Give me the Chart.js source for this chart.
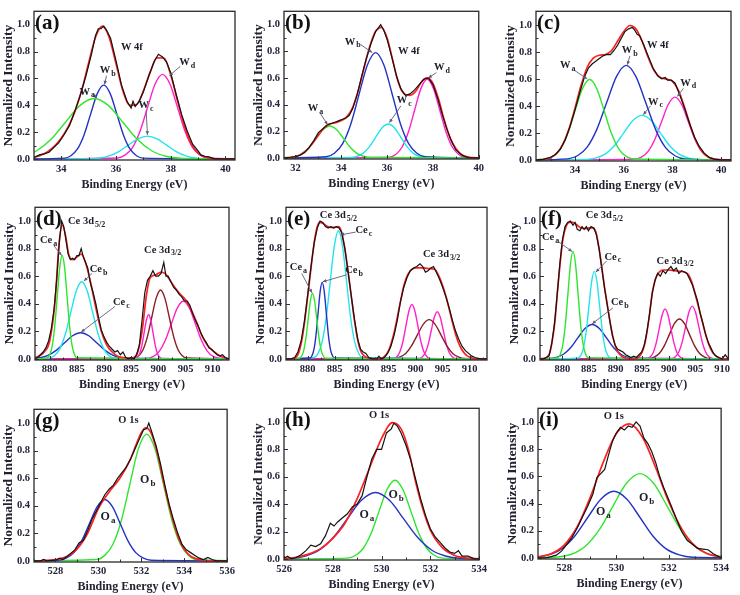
<!DOCTYPE html>
<html>
<head>
<meta charset="utf-8">
<script src="https://cdn.jsdelivr.net/npm/chart.js@4.4.1/dist/chart.umd.min.js"></script>
<style>
html,body{margin:0;padding:0;background:#fff;}
body{width:740px;height:595px;position:relative;overflow:hidden;}
</style>
</head>
<body>
<script>
// ---------------- shared tick labels ----------------
const yTicks = [0, 0.2, 0.4, 0.6, 0.8, 1.0];
const aTicks = [34, 36, 38, 40];
const bTicks = [32, 34, 36, 38, 40];
const cTicks = [34, 36, 38, 40];
const ceTicks = [880, 885, 890, 895, 900, 905, 910];
const gTicks = [528, 530, 532, 534, 536];
const hTicks = [526, 528, 530, 532, 534];
const iTicks = [528, 530, 532, 534];

// ---------------- (a) W 4f ----------------
const aFit = [[33,.013],[33.25,.028],[33.5,.054],[33.75,.095],[34,.156],[34.25,.238],[34.5,.356],[34.75,.515],[35,.717],[35.25,.907],[35.5,.989],[35.75,.906],[36,.709],[36.25,.508],[36.5,.399],[36.75,.405],[37,.507],[37.25,.647],[37.5,.753],[37.75,.752],[38,.626],[38.25,.431],[38.5,.246],[38.75,.113],[39,.044],[39.25,.014],[39.5,.003],[39.75,0],[40,0],[40.35,0]];
const aExp = [[33,.01],[33.2,.03],[33.4,.04],[33.55,.05],[33.7,.08],[33.9,.12],[34.1,.18],[34.3,.25],[34.5,.36],[34.7,.48],[34.9,.62],[35.1,.78],[35.25,.92],[35.35,.97],[35.45,.97],[35.55,.99],[35.65,.96],[35.8,.9],[36,.73],[36.2,.55],[36.4,.43],[36.55,.38],[36.62,.43],[36.7,.39],[36.85,.43],[37,.5],[37.2,.62],[37.4,.73],[37.55,.78],[37.7,.76],[37.85,.72],[38,.64],[38.2,.48],[38.4,.33],[38.6,.21],[38.8,.11],[39,.06],[39.1,.03],[39.25,.02],[39.4,.015],[39.6,0],[40,0],[40.35,0]];
const aWa = [[32.05,.005],[32.575,.02],[33.1,.061],[33.625,.146],[34.15,.273],[34.675,.397],[35.2,.45],[35.725,.397],[36.25,.273],[36.775,.146],[37.3,.061],[37.825,.02],[38.35,.005],[40.5,0]];
const aWb = [[32.5,0],[34.11,.006],[34.35,.024],[34.59,.074],[34.83,.179],[35.07,.334],[35.31,.485],[35.55,.55],[35.79,.485],[36.03,.334],[36.27,.179],[36.51,.074],[36.75,.024],[36.99,.006],[40.5,0]];
const aWc = [[32.5,0],[35.05,.002],[35.4,.007],[35.75,.023],[36.1,.055],[36.45,.103],[36.8,.15],[37.15,.17],[37.5,.15],[37.85,.103],[38.2,.055],[38.55,.023],[38.9,.007],[39.25,.002],[40.5,0]];
const aWd = [[32.5,0],[36.05,.007],[36.325,.028],[36.6,.085],[36.875,.205],[37.15,.382],[37.425,.556],[37.7,.63],[37.975,.556],[38.25,.382],[38.525,.205],[38.8,.085],[39.075,.028],[39.35,.007],[40.5,0]];

// ---------------- (b) W 4f ----------------
const bFit = [[31.5,.001],[31.75,.003],[32,.011],[32.25,.028],[32.5,.06],[32.75,.11],[33,.17],[33.25,.225],[33.5,.255],[33.75,.265],[34,.28],[34.25,.31],[34.5,.38],[34.75,.51],[35,.68],[35.25,.84],[35.5,.95],[35.75,.98],[36,.9],[36.25,.73],[36.5,.56],[36.75,.48],[37,.47],[37.25,.5],[37.5,.57],[37.75,.6],[38,.56],[38.25,.44],[38.5,.28],[38.75,.15],[39,.07],[39.25,.025],[39.5,.008],[39.75,.002],[40,0]];
const bExp = [[31.5,0],[31.8,.005],[32,.01],[32.2,.02],[32.4,.04],[32.6,.08],[32.8,.13],[33,.19],[33.2,.22],[33.4,.25],[33.6,.26],[33.75,.27],[33.9,.28],[34.05,.29],[34.2,.3],[34.35,.32],[34.5,.37],[34.7,.48],[34.9,.62],[35.1,.75],[35.3,.86],[35.5,.95],[35.6,.97],[35.72,1.0],[35.85,.96],[36,.89],[36.2,.76],[36.4,.62],[36.6,.52],[36.8,.47],[37,.48],[37.2,.51],[37.4,.55],[37.6,.59],[37.8,.6],[38,.55],[38.2,.45],[38.4,.33],[38.6,.22],[38.8,.13],[39,.06],[39.2,.03],[39.4,.01],[39.6,0],[40,0]];
const bWa = [[31,0],[31.7,.003],[32,.011],[32.3,.032],[32.6,.078],[32.9,.146],[33.2,.212],[33.5,.24],[33.8,.212],[34.1,.146],[34.4,.078],[34.7,.032],[35,.011],[35.3,.003],[40.5,0]];
const bWb = [[31,0],[33.34,.009],[33.7,.035],[34.06,.107],[34.42,.257],[34.78,.48],[35.14,.697],[35.5,.79],[35.86,.697],[36.22,.48],[36.58,.257],[36.94,.107],[37.3,.035],[37.66,.009],[40.5,0]];
const bWc = [[31,0],[34.4,.003],[34.675,.011],[34.95,.034],[35.225,.083],[35.5,.155],[35.775,.225],[36.05,.255],[36.325,.225],[36.6,.155],[36.875,.083],[37.15,.034],[37.425,.011],[37.7,.003],[40.5,0]];
const bWd = [[31,0],[36.1,.006],[36.375,.026],[36.65,.08],[36.925,.192],[37.2,.358],[37.475,.52],[37.75,.59],[38.025,.52],[38.3,.358],[38.575,.192],[38.85,.08],[39.125,.026],[39.4,.006],[40.5,0]];

// ---------------- (c) W 4f ----------------
const cFit = [[32.4,0],[32.5,.001],[32.75,.005],[33,.017],[33.25,.049],[33.5,.115],[33.75,.226],[34,.383],[34.25,.552],[34.5,.686],[34.75,.754],[35,.775],[35.25,.78],[35.5,.81],[35.75,.88],[36,.95],[36.25,.995],[36.5,.97],[36.75,.88],[37,.76],[37.25,.66],[37.5,.61],[37.75,.598],[38,.582],[38.25,.512],[38.5,.386],[38.75,.244],[39,.126],[39.25,.053],[39.5,.018],[39.75,.005],[40,.001],[40.4,0]];
const cExp = [[32.4,0],[32.7,.004],[33,.02],[33.2,.04],[33.4,.08],[33.6,.15],[33.8,.25],[34,.37],[34.2,.5],[34.4,.62],[34.55,.68],[34.7,.71],[34.85,.73],[35,.75],[35.15,.77],[35.3,.78],[35.45,.78],[35.6,.81],[35.75,.85],[35.9,.9],[36.05,.95],[36.2,.97],[36.35,.98],[36.45,.96],[36.55,.93],[36.65,.92],[36.8,.86],[37,.77],[37.2,.68],[37.4,.62],[37.55,.6],[37.7,.61],[37.8,.59],[37.95,.59],[38.1,.57],[38.3,.48],[38.5,.38],[38.7,.27],[38.9,.17],[39.1,.1],[39.3,.05],[39.5,.02],[39.7,.006],[40,0],[40.4,0]];
const cWa = [[32,0],[32.8,.007],[33.1,.026],[33.4,.08],[33.7,.193],[34,.361],[34.3,.525],[34.6,.595],[34.9,.525],[35.2,.361],[35.5,.193],[35.8,.08],[36.1,.026],[36.4,.007],[41,0]];
const cWb = [[32,0],[33.7,.008],[34.1,.031],[34.5,.095],[34.9,.228],[35.3,.425],[35.7,.617],[36.1,.7],[36.5,.617],[36.9,.425],[37.3,.228],[37.7,.095],[38.1,.031],[38.5,.008],[41,0]];
const cWc = [[32,0],[34.5,.004],[34.875,.015],[35.25,.045],[35.625,.107],[36,.2],[36.375,.291],[36.75,.33],[37.125,.291],[37.5,.2],[37.875,.107],[38.25,.045],[38.625,.015],[39,.004],[41,0]];
const cWd = [[32,0],[36.45,.005],[36.725,.02],[37,.063],[37.275,.151],[37.55,.282],[37.825,.41],[38.1,.465],[38.375,.41],[38.65,.282],[38.925,.151],[39.2,.063],[39.475,.02],[39.75,.005],[41,0]];

// ---------------- (d) Ce 3d ----------------
const dFit = [[877.3,.01],[878,.02],[879,.05],[880,.13],[881,.42],[881.7,.82],[882.3,.97],[882.9,.9],[883.5,.76],[884.2,.72],[885,.74],[885.8,.76],[886.6,.7],[887.5,.56],[888.5,.37],[889.5,.2],[890.5,.1],[891.5,.05],[892.5,.02],[893.5,.01],[895,.005],[896,.03],[897,.2],[897.8,.46],[898.5,.59],[899.5,.61],[900.5,.63],[901.2,.62],[902,.58],[903,.52],[904,.47],[905,.43],[906,.36],[907,.27],[908,.17],[909,.1],[910,.06],[911,.03],[912,.01],[913,0]];
const dExp = [[877.3,0],[877.8,.01],[878.3,.03],[878.8,.05],[879.3,.08],[879.8,.13],[880.3,.22],[880.8,.36],[881.3,.58],[881.8,.86],[882.2,1.0],[882.6,.96],[883,.86],[883.4,.76],[883.8,.72],[884.2,.73],[884.6,.72],[885,.75],[885.4,.75],[885.8,.8],[886.2,.74],[886.6,.7],[887,.66],[887.5,.55],[888,.48],[888.5,.4],[889,.3],[889.5,.21],[890,.16],[890.5,.12],[891,.09],[891.5,.07],[892,.05],[892.5,.06],[893,.03],[893.5,.05],[894,.01],[894.5,0],[895,.01],[895.5,0],[896,.03],[896.5,.1],[897,.28],[897.5,.48],[898,.57],[898.5,.6],[899,.64],[899.5,.6],[900,.6],[900.5,.62],[901,.7],[901.4,.6],[901.8,.6],[902.3,.56],[902.8,.52],[903.3,.5],[903.8,.47],[904.3,.45],[904.8,.42],[905.3,.42],[905.8,.39],[906.3,.33],[906.8,.28],[907.3,.24],[907.8,.19],[908.3,.15],[908.8,.12],[909.3,.08],[909.8,.07],[910.3,.05],[910.8,.03],[911.3,.02],[911.8,.03],[912.3,.01],[913,0]];
const dCea = [[877,0],[879.6,.008],[880.05,.033],[880.5,.101],[880.95,.244],[881.4,.455],[881.85,.662],[882.3,.75],[882.75,.662],[883.2,.455],[883.65,.244],[884.1,.101],[884.55,.033],[885,.008],[914,0]];
const dCeb = [[877,0],[879.9,.006],[880.9,.025],[881.9,.076],[882.9,.182],[883.9,.34],[884.9,.494],[885.9,.56],[886.9,.494],[887.9,.34],[888.9,.182],[889.9,.076],[890.9,.025],[891.9,.006],[914,0]];
const dCec = [[876.7,.002],[878.2,.008],[879.7,.026],[881.2,.062],[882.7,.115],[884.2,.168],[885.7,.19],[887.2,.168],[888.7,.115],[890.2,.062],[891.7,.026],[893.2,.008],[894.7,.002],[914,0]];
const dPk1 = [[877,0],[895.8,.004],[896.2,.014],[896.6,.043],[897,.104],[897.4,.194],[897.8,.282],[898.2,.32],[898.6,.282],[899,.194],[899.4,.104],[899.8,.043],[900.2,.014],[900.6,.004],[914,0]];
const dPk2 = [[877,0],[895.6,.006],[896.4,.022],[897.2,.068],[898,.163],[898.8,.304],[899.6,.441],[900.4,.5],[901.2,.441],[902,.304],[902.8,.163],[903.6,.068],[904.4,.022],[905.2,.006],[914,0]];
const dPk3 = [[877,0],[898,.005],[899.1,.018],[900.2,.057],[901.3,.137],[902.4,.255],[903.5,.37],[904.6,.42],[905.7,.37],[906.8,.255],[907.9,.137],[909,.057],[910.1,.018],[911.2,.005],[914,0]];

// ---------------- (e) Ce 3d ----------------
const eFit = [[876,0],[877.5,.005],[878.3,.04],[879,.15],[879.7,.35],[880.3,.55],[881,.78],[881.6,.93],[882.2,.99],[882.8,.985],[883.5,.965],[884.3,.955],[885,.955],[885.7,.96],[886.2,.93],[886.8,.82],[887.4,.66],[888,.48],[888.6,.3],[889.2,.15],[889.8,.06],[890.5,.02],[891.5,.005],[893,0],[894,.01],[895,.06],[896,.19],[897,.38],[897.8,.53],[898.5,.61],[899.3,.65],[900.2,.66],[901.5,.66],[902.5,.655],[903.5,.65],[904.3,.6],[905,.53],[905.7,.44],[906.4,.33],[907.1,.22],[907.8,.13],[908.5,.07],[909.3,.03],[910.2,.01],[911,0],[913.2,0]];
const eExp = [[876,0],[877,0],[877.6,.01],[878.2,.05],[878.8,.13],[879.4,.27],[880,.46],[880.6,.66],[881.2,.84],[881.8,.95],[882.3,1.0],[882.8,.99],[883.3,.96],[883.8,.95],[884.3,.96],[884.8,.95],[885.3,.96],[885.8,.95],[886.3,.92],[886.9,.8],[887.5,.63],[888.1,.45],[888.7,.28],[889.3,.14],[889.8,.07],[890.3,.05],[890.8,.04],[891.3,.01],[892,0],[892.8,0],[893.2,.02],[893.6,0],[894.2,.01],[894.8,.04],[895.4,.09],[896,.17],[896.6,.28],[897.2,.42],[897.8,.52],[898.4,.59],[899,.64],[899.6,.66],[900.2,.67],[900.8,.69],[901.3,.67],[901.8,.63],[902.3,.64],[902.8,.66],[903.3,.67],[903.8,.63],[904.4,.58],[905,.52],[905.6,.45],[906.2,.37],[906.8,.28],[907.4,.2],[908,.14],[908.6,.09],[909.2,.06],[909.8,.04],[910.4,.02],[911,.01],[912,0],[913.2,0]];
const eCea = [[875,0],[878.5,.005],[878.9,.021],[879.3,.064],[879.7,.154],[880.1,.288],[880.5,.419],[880.9,.475],[881.3,.419],[881.7,.288],[882.1,.154],[882.5,.064],[882.9,.021],[883.3,.005],[914,0]];
const eCeb = [[875,0],[880.45,.006],[880.825,.024],[881.2,.075],[881.575,.18],[881.95,.337],[882.325,.49],[882.7,.555],[883.075,.49],[883.45,.337],[883.825,.18],[884.2,.075],[884.575,.024],[884.95,.006],[914,0]];
const eCec = [[875,0],[881.2,.01],[881.95,.041],[882.7,.126],[883.45,.302],[884.2,.565],[884.95,.82],[885.7,.93],[886.45,.82],[887.2,.565],[887.95,.302],[888.7,.126],[889.45,.041],[890.2,.01],[914,0]];
const ePk1 = [[875,0],[896,.004],[896.55,.017],[897.1,.053],[897.65,.128],[898.2,.24],[898.75,.348],[899.3,.395],[899.85,.348],[900.4,.24],[900.95,.128],[901.5,.053],[902.05,.017],[902.6,.004],[914,0]];
const ePk2 = [[875,0],[895.9,.003],[897,.013],[898.1,.038],[899.2,.093],[900.3,.173],[901.4,.251],[902.5,.285],[903.6,.251],[904.7,.173],[905.8,.093],[906.9,.038],[908,.013],[909.1,.003],[914,0]];
const ePk3 = [[875,0],[900.7,.004],[901.25,.015],[901.8,.046],[902.35,.111],[902.9,.208],[903.45,.302],[904,.342],[904.55,.302],[905.1,.208],[905.65,.111],[906.2,.046],[906.75,.015],[907.3,.004],[914,0]];

// ---------------- (f) Ce 3d ----------------
const fFit = [[875.8,0],[877,.01],[877.6,.04],[878.1,.13],[878.6,.27],[879.1,.5],[879.6,.7],[880.1,.87],[880.6,.95],[881.3,.99],[882,.99],[882.8,.97],[883.5,.95],[884.3,.945],[885,.95],[885.7,.95],[886.3,.92],[886.9,.8],[887.5,.64],[888,.5],[888.5,.38],[889,.26],[889.5,.16],[890,.09],[890.6,.04],[891.3,.015],[892,.005],[893,0],[894,.005],[895,.05],[895.7,.15],[896.3,.3],[896.9,.48],[897.5,.58],[898.2,.63],[899,.645],[900,.645],[901,.64],[902,.635],[903,.63],[903.7,.61],[904.3,.56],[904.9,.48],[905.5,.39],[906.1,.3],[906.7,.21],[907.3,.13],[907.9,.07],[908.6,.03],[909.3,.01],[910,0],[911.2,0]];
const fExp = [[875.8,0],[876.5,0],[877,.01],[877.5,.02],[878,.11],[878.5,.25],[879,.45],[879.5,.68],[880,.86],[880.5,.96],[881,.99],[881.5,1.0],[882,.97],[882.4,.99],[882.8,.94],[883.3,.93],[883.7,.96],[884.1,.94],[884.5,.96],[884.9,.93],[885.4,.96],[885.9,.95],[886.4,.9],[886.9,.8],[887.4,.66],[887.9,.52],[888.4,.4],[888.9,.28],[889.4,.17],[889.9,.1],[890.4,.07],[890.9,.06],[891.4,.05],[891.9,.03],[892.4,.02],[892.9,.01],[893.4,.02],[893.9,.01],[894.4,.03],[894.9,.05],[895.4,.1],[895.9,.2],[896.4,.33],[896.9,.48],[897.4,.57],[897.9,.62],[898.4,.6],[898.9,.64],[899.4,.62],[899.9,.65],[900.4,.67],[900.9,.64],[901.4,.66],[901.9,.62],[902.4,.64],[902.9,.63],[903.4,.62],[903.9,.58],[904.4,.54],[904.9,.48],[905.4,.42],[905.9,.33],[906.4,.26],[906.9,.18],[907.4,.12],[907.9,.08],[908.4,.04],[908.9,.02],[909.4,.01],[910,0],[910.6,.03],[911.2,0]];
const fCea = [[875,0],[879.15,.009],[879.625,.034],[880.1,.105],[880.575,.254],[881.05,.473],[881.525,.688],[882,.78],[882.475,.688],[882.95,.473],[883.425,.254],[883.9,.105],[884.375,.034],[884.85,.009],[912,0]];
const fCec = [[875,0],[883,.007],[883.5,.028],[884,.086],[884.5,.206],[885,.385],[885.5,.56],[886,.635],[886.5,.56],[887,.385],[887.5,.206],[888,.086],[888.5,.028],[889,.007],[912,0]];
const fCeb = [[875,.001],[877.5,.003],[878.85,.011],[880.2,.034],[881.55,.081],[882.9,.152],[884.25,.221],[885.6,.25],[886.95,.221],[888.3,.152],[889.65,.081],[891,.034],[892.35,.011],[893.7,.003],[912,0]];
const fPk1 = [[875,0],[896,.004],[896.55,.016],[897.1,.049],[897.65,.118],[898.2,.22],[898.75,.319],[899.3,.362],[899.85,.319],[900.4,.22],[900.95,.118],[901.5,.049],[902.05,.016],[902.6,.004],[912,0]];
const fPk2 = [[875,0],[896.3,.003],[897.25,.013],[898.2,.039],[899.15,.094],[900.1,.176],[901.05,.256],[902,.29],[902.95,.256],[903.9,.176],[904.85,.094],[905.8,.039],[906.75,.013],[907.7,.003],[912,0]];
const fPk3 = [[875,0],[900.65,.004],[901.275,.017],[901.9,.052],[902.525,.124],[903.15,.232],[903.775,.338],[904.4,.383],[905.025,.338],[905.65,.232],[906.275,.124],[906.9,.052],[907.525,.017],[908.15,.004],[912,0]];

// ---------------- (g) O 1s ----------------
const gFit = [[527,0],[527.5,.002],[528,.01],[528.5,.03],[529,.085],[529.5,.2],[530,.38],[530.5,.5],[531,.6],[531.5,.74],[531.75,.84],[532,.93],[532.2,.965],[532.45,.93],[532.75,.78],[533,.6],[533.25,.43],[533.5,.28],[533.75,.16],[534,.085],[534.25,.04],[534.5,.018],[535,.003],[535.5,0],[536,0]];
const gExp = [[527,0],[527.3,0],[527.45,.01],[527.6,0],[528,.005],[528.2,.02],[528.35,.01],[528.6,.04],[528.9,.08],[529.1,.13],[529.3,.15],[529.5,.22],[529.7,.3],[529.9,.36],[530.1,.42],[530.3,.48],[530.5,.52],[530.7,.55],[530.9,.6],[531.1,.64],[531.3,.68],[531.5,.74],[531.7,.81],[531.9,.88],[532.1,.95],[532.25,.96],[532.35,1.0],[532.5,.93],[532.7,.83],[532.9,.7],[533.1,.55],[533.3,.41],[533.5,.3],[533.7,.2],[533.9,.12],[534.1,.08],[534.3,.06],[534.5,.04],[534.7,.02],[534.9,.01],[535.1,.025],[535.3,.01],[535.5,0],[536,0]];
const gOa = [[526,0],[528.14,.005],[528.5,.02],[528.86,.06],[529.22,.145],[529.58,.27],[529.94,.392],[530.3,.445],[530.66,.392],[531.02,.27],[531.38,.145],[531.74,.06],[532.1,.02],[532.46,.005],[537,0]];
const gOb = [[526,0],[529.91,.01],[530.3,.04],[530.69,.124],[531.08,.299],[531.47,.558],[531.86,.811],[532.25,.92],[532.64,.811],[533.03,.558],[533.42,.299],[533.81,.124],[534.2,.04],[534.59,.01],[537,0]];

// ---------------- (h) O 1s ----------------
const hFit = [[526,.003],[526.5,.012],[527,.035],[527.5,.075],[528,.15],[528.5,.26],[529,.44],[529.5,.66],[530,.88],[530.45,.995],[530.8,.95],[531.1,.8],[531.4,.56],[531.7,.36],[532,.21],[532.5,.08],[533,.025],[533.5,.006],[534,.001]];
const hExp = [[526,.005],[526.15,.02],[526.3,0],[526.5,.01],[526.7,.03],[526.9,.06],[527.1,.1],[527.3,.09],[527.5,.11],[527.7,.17],[527.9,.26],[528.05,.24],[528.2,.27],[528.4,.3],[528.6,.33],[528.8,.38],[529,.4],[529.2,.46],[529.4,.6],[529.6,.73],[529.8,.8],[530,.8],[530.2,.92],[530.4,.95],[530.5,.99],[530.65,.97],[530.8,.92],[531,.83],[531.2,.72],[531.4,.58],[531.6,.44],[531.8,.32],[532,.22],[532.2,.16],[532.4,.12],[532.6,.08],[532.8,.05],[533,.04],[533.15,.06],[533.3,.02],[533.55,.02],[533.8,0],[534,0]];
const hOa = [[525,0],[526.3,.005],[526.875,.021],[527.45,.065],[528.025,.158],[528.6,.294],[529.175,.428],[529.75,.485],[530.325,.428],[530.9,.294],[531.475,.158],[532.05,.065],[532.625,.021],[533.2,.005],[535,0]];
const hOb = [[525,0],[528.6,.006],[528.925,.025],[529.25,.078],[529.575,.187],[529.9,.349],[530.225,.507],[530.55,.575],[530.875,.507],[531.2,.349],[531.525,.187],[531.85,.078],[532.175,.025],[532.5,.006],[535,0]];

// ---------------- (i) O 1s ----------------
const iFit = [[527,.008],[527.5,.03],[528,.094],[528.5,.229],[529,.447],[529.5,.706],[530,.916],[530.5,.986],[531,.885],[531.5,.663],[532,.411],[532.5,.212],[533,.088],[533.5,.029],[534,.008]];
const iExp = [[527,0],[527.3,0],[527.5,.01],[527.7,.02],[527.9,.05],[528.1,.1],[528.3,.15],[528.5,.22],[528.7,.3],[528.9,.38],[529.1,.47],[529.25,.59],[529.4,.62],[529.55,.65],[529.7,.76],[529.85,.86],[530,.92],[530.15,.96],[530.3,.94],[530.45,.97],[530.6,.96],[530.75,1.0],[530.9,.97],[531.05,.88],[531.2,.84],[531.35,.78],[531.5,.7],[531.65,.6],[531.8,.52],[531.95,.45],[532.1,.38],[532.3,.28],[532.5,.19],[532.7,.13],[532.9,.1],[533.1,.07],[533.3,.065],[533.5,.06],[533.7,.03],[533.9,.01],[534,0]];
const iOa = [[526.9,.005],[527.4,.022],[527.9,.066],[528.4,.159],[528.9,.297],[529.4,.432],[529.9,.49],[530.4,.432],[530.9,.297],[531.4,.159],[531.9,.066],[532.4,.022],[532.9,.005],[535,0]];
const iOb = [[526,0],[527.75,.007],[528.275,.027],[528.8,.084],[529.325,.202],[529.85,.376],[530.375,.547],[530.9,.62],[531.425,.547],[531.95,.376],[532.475,.202],[533,.084],[533.525,.027],[534.05,.007],[535,0]];

// ---------------- styles ----------------
const SERIF = '"Liberation Serif", "Times New Roman", serif';
const COL = {exp:'#141414', fit:'#ff2020', green:'#2ee62e', blue:'#2433c4', cyan:'#22e4ee', mag:'#ff22c8', brown:'#8a1e26'};
const TXT = '#23233a';

const panels = [
 {letter:'(a)', box:[34,3,235,160], xr:[33,40.35], ticks:aTicks,
  series:[[aExp,'exp'],[aFit,'fit'],[aWa,'green'],[aWb,'blue'],[aWc,'cyan'],[aWd,'mag']],
  notes:[{t:'W 4f',x:36.58,y:.83},{t:'W',s:'a',x:34.95,y:.5,ar:[35.15,.48,35.3,.455]},{t:'W',s:'b',x:35.7,y:.66,ar:[35.65,.62,35.58,.555]},{t:'W',s:'c',x:37.1,y:.4,ar:[37.1,.36,37.15,.18]},{t:'W',s:'d',x:38.6,y:.72,ar:[38.35,.69,37.95,.62]}]},
 {letter:'(b)', box:[284,3,484,159], xr:[31.5,40], ticks:bTicks,
  series:[[bExp,'exp'],[bFit,'fit'],[bWa,'green'],[bWb,'blue'],[bWc,'cyan'],[bWd,'mag']],
  notes:[{t:'W 4f',x:36.95,y:.8},{t:'W',s:'a',x:32.88,y:.37,ar:[33.1,.33,33.4,.25]},{t:'W',s:'b',x:34.5,y:.87,ar:[34.85,.85,35.35,.79]},{t:'W',s:'c',x:36.75,y:.43,ar:[36.6,.39,36.1,.265]},{t:'W',s:'d',x:38.4,y:.68,ar:[38.15,.64,37.8,.6]}]},
 {letter:'(c)', box:[536,3,731,161], xr:[32.4,40.4], ticks:cTicks,
  series:[[cExp,'exp'],[cFit,'fit'],[cWa,'green'],[cWb,'blue'],[cWc,'cyan'],[cWd,'mag']],
  notes:[{t:'W 4f',x:37.4,y:.85},{t:'W',s:'a',x:33.7,y:.7,ar:[34.0,.66,34.5,.6]},{t:'W',s:'b',x:36.25,y:.81,ar:[36.25,.77,36.15,.705]},{t:'W',s:'c',x:37.3,y:.43,ar:[37.1,.4,36.8,.335]},{t:'W',s:'d',x:38.65,y:.57,ar:[38.45,.53,38.2,.47]}]},
 {letter:'(d)', box:[35,199,229,360], xr:[877.3,913], ticks:ceTicks,
  series:[[dExp,'exp'],[dFit,'fit'],[dCea,'green'],[dCeb,'cyan'],[dCec,'blue'],[dPk1,'mag'],[dPk2,'brown'],[dPk3,'mag']],
  notes:[{t:'Ce 3d',s:'5/2',x:886.8,y:1.0},{t:'Ce',s:'a',x:879.8,y:.86,ar:[880.8,.82,882.2,.75]},{t:'Ce',s:'b',x:889,y:.65,ar:[887.8,.62,886.3,.565]},{t:'Ce',s:'c',x:893.2,y:.41,ar:[892,.38,885.8,.195]},{t:'Ce 3d',s:'3/2',x:900.8,y:.79}]},
 {letter:'(e)', box:[286,199,487,360], xr:[876,913.2], ticks:ceTicks,
  series:[[eExp,'exp'],[eFit,'fit'],[eCea,'green'],[eCeb,'blue'],[eCec,'cyan'],[ePk1,'mag'],[ePk2,'brown'],[ePk3,'mag']],
  notes:[{t:'Ce 3d',s:'5/2',x:885.7,y:1.04},{t:'Ce',s:'a',x:878.3,y:.665,ar:[878.9,.62,880.8,.48]},{t:'Ce',s:'b',x:888.6,y:.64,ar:[887.2,.61,882.8,.56]},{t:'Ce',s:'c',x:890.4,y:.93,ar:[888.9,.92,886.1,.9]},{t:'Ce 3d',s:'3/2',x:904.8,y:.76}]},
 {letter:'(f)', box:[540,199,730,360], xr:[875.8,911.2], ticks:ceTicks,
  series:[[fExp,'exp'],[fFit,'fit'],[fCea,'green'],[fCec,'cyan'],[fCeb,'blue'],[fPk1,'mag'],[fPk2,'brown'],[fPk3,'mag']],
  notes:[{t:'Ce 3d',s:'5/2',x:887.9,y:1.04},{t:'Ce',s:'a',x:877.8,y:.88,ar:[879.3,.85,881.8,.78]},{t:'Ce',s:'c',x:889.5,y:.74,ar:[888.3,.71,886.3,.63]},{t:'Ce',s:'b',x:890.8,y:.41,ar:[889.5,.37,885.6,.255]},{t:'Ce 3d',s:'3/2',x:901.2,y:.71}]},
 {letter:'(g)', box:[34,401,235,562], xr:[527,536], ticks:gTicks,
  series:[[gExp,'exp'],[gFit,'fit'],[gOa,'blue'],[gOb,'green']],
  notes:[{t:'O 1s',x:531.4,y:1.02},{t:'O',s:'b',x:532.3,y:.59,size:12},{t:'O',s:'a',x:530.45,y:.32,size:12}]},
 {letter:'(h)', box:[284,400,487,560], xr:[526,534], ticks:hTicks,
  series:[[hExp,'exp'],[hFit,'fit'],[hOa,'blue'],[hOb,'green']],
  notes:[{t:'O 1s',x:529.9,y:1.05},{t:'O',s:'b',x:530.6,y:.47,size:12},{t:'O',s:'a',x:529.4,y:.32,size:12}]},
 {letter:'(i)', box:[538,400,729,559], xr:[527,534], ticks:iTicks,
  series:[[iExp,'exp'],[iFit,'fit'],[iOa,'blue'],[iOb,'green']],
  notes:[{t:'O 1s',x:529.9,y:1.04},{t:'O',s:'b',x:531.15,y:.44,size:12},{t:'O',s:'a',x:529.5,y:.34,size:12}]}
];

function drawLabel(ctx, cx, cy, main, sub, size){
  ctx.textBaseline = 'middle'; ctx.textAlign = 'left'; ctx.fillStyle = '#1e1e2a';
  ctx.font = `bold ${size}px ${SERIF}`;
  const w1 = ctx.measureText(main).width;
  const ss = Math.round(size*0.75);
  ctx.font = `bold ${ss}px ${SERIF}`;
  const w2 = sub ? ctx.measureText(sub).width + 1 : 0;
  const x0 = cx - (w1 + w2)/2;
  ctx.font = `bold ${size}px ${SERIF}`;
  ctx.fillText(main, x0, cy);
  if (sub){ ctx.font = `bold ${ss}px ${SERIF}`; ctx.fillText(sub, x0 + w1 + 1, cy + size*0.32); }
}

function decor(p){
  return {
    id: 'decor',
    afterDatasetsDraw(chart){
      const ctx = chart.ctx, a = chart.chartArea, xs = chart.scales.x, ys = chart.scales.y;
      ctx.save();
      ctx.strokeStyle = '#333'; ctx.lineWidth = 1;
      const line = (x1,y1,x2,y2) => { ctx.beginPath(); ctx.moveTo(x1,y1); ctx.lineTo(x2,y2); ctx.stroke(); };
      const t = p.ticks, st = t[1]-t[0];
      const minor = [];
      for (let i=0;i<t.length-1;i++) minor.push((t[i]+t[i+1])/2);
      if (t[0]-st/2 >= p.xr[0]) minor.push(t[0]-st/2);
      if (t[t.length-1]+st/2 <= p.xr[1]) minor.push(t[t.length-1]+st/2);
      t.forEach(v => { const px = Math.round(xs.getPixelForValue(v))+0.5; line(px,a.bottom,px,a.bottom-4); });
      minor.forEach(v => { const px = Math.round(xs.getPixelForValue(v))+0.5; line(px,a.bottom,px,a.bottom-2.5); });
      yTicks.forEach(v => { const py = Math.round(ys.getPixelForValue(v))+0.5; line(a.left,py,a.left+4,py); });
      for (let i=0;i<yTicks.length-1;i++){ const py = Math.round(ys.getPixelForValue((yTicks[i]+yTicks[i+1])/2))+0.5; line(a.left,py,a.left+2.5,py); }
      ctx.lineWidth = 1.3; ctx.strokeStyle = '#2a2a2a';
      ctx.strokeRect(a.left, a.top, a.right-a.left, a.bottom-a.top);
      p.notes.forEach(n => {
        if (n.ar){
          const x1 = xs.getPixelForValue(n.ar[0]), y1 = ys.getPixelForValue(n.ar[1]);
          const x2 = xs.getPixelForValue(n.ar[2]), y2 = ys.getPixelForValue(n.ar[3]);
          ctx.strokeStyle = '#5c5c78'; ctx.fillStyle = '#5c5c78'; ctx.lineWidth = 0.9;
          line(x1,y1,x2,y2);
          const ang = Math.atan2(y2-y1, x2-x1), L = 4;
          ctx.beginPath(); ctx.moveTo(x2,y2);
          ctx.lineTo(x2 - L*Math.cos(ang-0.45), y2 - L*Math.sin(ang-0.45));
          ctx.lineTo(x2 - L*Math.cos(ang+0.45), y2 - L*Math.sin(ang+0.45));
          ctx.closePath(); ctx.fill();
        }
        drawLabel(ctx, xs.getPixelForValue(n.x), ys.getPixelForValue(n.y), n.t, n.s, n.size || 10.5);
      });
      ctx.font = `bold 21px ${SERIF}`; ctx.fillStyle = '#111';
      ctx.textAlign = 'left'; ctx.textBaseline = 'middle';
      ctx.fillText(p.letter, a.left + 1, a.top + 12);
      ctx.restore();
    }
  };
}

function build(p){
  const [L,T,R,B] = p.box;
  const W = R - L + 34 + 3, H = B - T + 2 + 36;
  const wrap = document.createElement('div');
  wrap.style.cssText = `position:absolute;left:${L-34}px;top:${T-2}px;width:${W}px;height:${H}px;`;
  const cv = document.createElement('canvas');
  cv.width = W; cv.height = H; cv.style.width = W+'px'; cv.style.height = H+'px';
  wrap.appendChild(cv); document.body.appendChild(wrap);
  const datasets = p.series.map(([d,k]) => ({
    data: d, borderColor: COL[k], pointRadius: 0, fill: false,
    borderWidth: k === 'exp' ? 1.2 : (k === 'fit' ? 1.7 : 1.4),
    tension: k === 'exp' ? 0 : 0.4,
    cubicInterpolationMode: k === 'exp' ? 'default' : 'monotone'
  }));
  new Chart(cv, {
    type: 'line',
    data: { datasets },
    options: {
      responsive: false, animation: false, devicePixelRatio: 1,
      layout: { padding: { left: 0, top: 2, right: 3, bottom: 0 } },
      plugins: { legend: { display: false }, tooltip: { enabled: false } },
      scales: {
        x: {
          type: 'linear', min: p.xr[0], max: p.xr[1],
          grid: { display: false, drawTicks: false }, border: { display: false },
          afterBuildTicks: s => { s.ticks = p.ticks.map(v => ({ value: v })); },
          afterFit: s => { s.height = 36; },
          ticks: { autoSkip: false, maxRotation: 0, padding: 3, color: TXT, font: { family: SERIF, size: 10.5, weight: 'bold' } },
          title: { display: true, text: 'Binding Energy (eV)', color: '#222230', padding: { top: 0, bottom: 4 }, font: { family: SERIF, size: 12, weight: 'bold' } }
        },
        y: {
          type: 'linear', min: -0.008, max: 1.1,
          grid: { display: false, drawTicks: false }, border: { display: false },
          afterBuildTicks: s => { s.ticks = yTicks.map(v => ({ value: v })); },
          afterFit: s => { s.width = 34; },
          ticks: { autoSkip: false, padding: 4, color: TXT, font: { family: SERIF, size: 10.5, weight: 'bold' }, callback: v => Number(v).toFixed(1) },
          title: { display: true, text: 'Normalized Intensity', color: '#222230', padding: { top: 0, bottom: 0 }, font: { family: SERIF, size: 13.5, weight: 'bold' } }
        }
      }
    },
    plugins: [decor(p)]
  });
}

panels.forEach(build);
</script>
</body>
</html>
